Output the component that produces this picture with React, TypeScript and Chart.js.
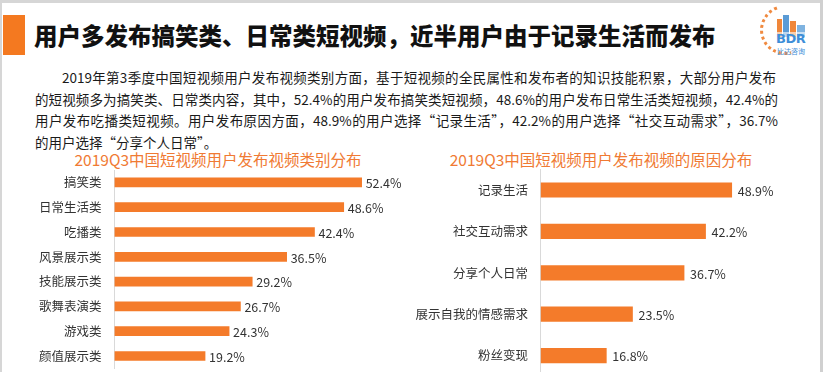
import React, { useEffect, useRef } from "react";
import { Chart, registerables } from "chart.js";

Chart.register(...registerables);

const FONT = '"Noto Sans CJK SC", "Noto Sans", sans-serif';
const ORANGE = "#F47B2A";

const pageTitle = "用户多发布搞笑类、日常类短视频，近半用户由于记录生活而发布";
const paragraphLines = [
  "2019年第3季度中国短视频用户发布视频类别方面，基于短视频的全民属性和发布者的知识技能积累，大部分用户发布",
  "的短视频多为搞笑类、日常类内容，其中，52.4%的用户发布搞笑类短视频，48.6%的用户发布日常生活类短视频，42.4%的",
  "用户发布吃播类短视频。用户发布原因方面，48.9%的用户选择“记录生活”，42.2%的用户选择“社交互动需求”，36.7%",
  "的用户选择“分享个人日常”。",
];

const leftTitle = "2019Q3中国短视频用户发布视频类别分布";
const leftCategories = ["搞笑类", "日常生活类", "吃播类", "风景展示类", "技能展示类", "歌舞表演类", "游戏类", "颜值展示类"];
const leftValues = [52.4, 48.6, 42.4, 36.5, 29.2, 26.7, 24.3, 19.2];

const rightTitle = "2019Q3中国短视频用户发布视频的原因分布";
const rightCategories = ["记录生活", "社交互动需求", "分享个人日常", "展示自我的情感需求", "粉丝变现"];
const rightValues = [48.9, 42.2, 36.7, 23.5, 16.8];

const axisMax = 60;

type Opts = {
  width: number;
  height: number;
  axisWidth: number;
  labelPad: number;
  padTop: number;
  padBottom: number;
  padRight: number;
  thickness: number;
  valueOffset: number;
};

function BarChart({ labels, values, opts }: { labels: string[]; values: number[]; opts: Opts }) {
  const ref = useRef<HTMLCanvasElement | null>(null);
  useEffect(() => {
    const canvas = ref.current;
    if (!canvas) return;
    const valueLabels = {
      id: "valueLabels",
      afterDatasetsDraw(chart: any) {
        const ctx = chart.ctx;
        const meta = chart.getDatasetMeta(0);
        ctx.save();
        ctx.font = `12.5px ${FONT}`;
        ctx.fillStyle = "#333333";
        ctx.textAlign = "left";
        ctx.textBaseline = "middle";
        meta.data.forEach((bar: any, i: number) => {
          ctx.fillText(values[i].toFixed(1) + "%", bar.x + opts.valueOffset, bar.y + 1);
        });
        ctx.restore();
      },
    };
    const chart = new Chart(canvas, {
      type: "bar",
      data: {
        labels,
        datasets: [
          {
            data: values,
            backgroundColor: ORANGE,
            borderWidth: 0,
            barThickness: opts.thickness,
          },
        ],
      },
      options: {
        indexAxis: "y",
        responsive: false,
        animation: false,
        devicePixelRatio: 1,
        layout: { padding: { top: opts.padTop, bottom: opts.padBottom, right: opts.padRight, left: 0 } },
        plugins: { legend: { display: false }, tooltip: { enabled: false } },
        scales: {
          x: { display: false, min: 0, max: axisMax },
          y: {
            grid: { display: false, drawTicks: false },
            border: { display: true, color: "#d9d9d9", width: 1 },
            ticks: {
              autoSkip: false,
              color: "#333333",
              padding: opts.labelPad,
              font: { size: 12.5, family: FONT },
            },
            afterFit: (s: any) => {
              s.width = opts.axisWidth;
              s.paddingTop = 0;
              s.paddingBottom = 0;
            },
          },
        },
      },
      plugins: [valueLabels],
    } as any);
    return () => chart.destroy();
  }, []);
  return (
    <canvas
      ref={ref}
      width={opts.width}
      height={opts.height}
      style={{ width: opts.width, height: opts.height, display: "block" }}
    />
  );
}

export default function App() {
  const abs = (s: React.CSSProperties): React.CSSProperties => ({ position: "absolute", ...s });
  return (
    <div
      style={{
        position: "fixed",
        left: 0,
        top: 0,
        width: 823,
        height: 372,
        overflow: "hidden",
        background: "#ffffff",
        fontFamily: FONT,
      }}
    >
      {/* frame */}
      <div style={abs({ left: 0, top: 0, width: 823, height: 3, background: "#d6d6d6" })} />
      <div style={abs({ left: 0, top: 0, width: 2, height: 372, background: "#d6d6d6" })} />
      <div style={abs({ left: 820, top: 0, width: 3, height: 372, background: "#d0d0d0" })} />

      {/* title */}
      <div style={abs({ left: 3, top: 15, width: 22, height: 40, background: "#F47920" })} />
      <div
        style={abs({
          left: 34,
          top: 22,
          fontSize: 23.5,
          lineHeight: "26px",
          fontWeight: 900,
          color: "#111111",
          whiteSpace: "nowrap",
        })}
      >
        {pageTitle}
      </div>

      {/* logo */}
      <div style={abs({ left: 760, top: 5, width: 52, height: 52 })}>
        <div
          style={abs({
            left: 0,
            top: 0,
            width: 44,
            height: 44,
            borderRadius: "50%",
            border: "3px dotted #F08A40",
            borderRightColor: "transparent",
            borderTopColor: "transparent",
            transform: "rotate(30deg)",
          })}
        />
        <div style={abs({ left: 17, top: 14, width: 5, height: 18, background: "#F0873A" })} />
        <div style={abs({ left: 23, top: 10, width: 6, height: 22, background: "#5B9BD5" })} />
        <div style={abs({ left: 30, top: 16, width: 6, height: 16, background: "#F0873A" })} />
        <div style={abs({ left: 37, top: 20, width: 8, height: 12, background: "#7FB3E0" })} />
        <div
          style={abs({
            left: 16,
            top: 27,
            fontSize: 13,
            fontWeight: 700,
            color: "#3E8ED8",
            fontFamily: '"DejaVu Sans", sans-serif',
            lineHeight: "14px",
            letterSpacing: -0.5,
            background: "rgba(255,255,255,0.6)",
          })}
        >
          BDR
        </div>
        <div style={abs({ left: 17, top: 42, fontSize: 7, color: "#3E8ED8", lineHeight: "8px" })}>比达咨询</div>
      </div>

      {/* paragraph */}
      {paragraphLines.map((line, i) => {
        const last = i === paragraphLines.length - 1;
        return (
          <div
            key={i}
            style={abs({
              left: i === 0 ? 62 : 35,
              top: 66 + i * 21.7,
              width: last ? undefined : i === 0 ? 714 : 743,
              fontSize: 13.5,
              lineHeight: "22px",
              color: "#1a1a1a",
              textAlign: last ? "left" : "justify",
              textAlignLast: last ? "left" : "justify",
              whiteSpace: last ? "nowrap" : "normal",
            } as React.CSSProperties)}
          >
            {line}
          </div>
        );
      })}

      {/* chart titles */}
      <div
        style={abs({
          left: 0,
          width: 436,
          top: 149,
          textAlign: "center",
          fontSize: 15.5,
          lineHeight: "20px",
          color: "#F07A33",
          whiteSpace: "nowrap",
        })}
      >
        {leftTitle}
      </div>
      <div
        style={abs({
          left: 400,
          width: 402,
          top: 149,
          textAlign: "center",
          fontSize: 15.5,
          lineHeight: "20px",
          color: "#F07A33",
          whiteSpace: "nowrap",
        })}
      >
        {rightTitle}
      </div>

      {/* charts */}
      <div style={abs({ left: 0, top: 165 })}>
        <BarChart
          labels={leftCategories}
          values={leftValues}
          opts={{
            width: 412,
            height: 210,
            axisWidth: 114.5,
            labelPad: 13,
            padTop: 5,
            padBottom: 6.6,
            padRight: 14.5,
            thickness: 9,
            valueOffset: 4,
          }}
        />
      </div>
      <div style={abs({ left: 412, top: 165 })}>
        <BarChart
          labels={rightCategories}
          values={rightValues}
          opts={{
            width: 411,
            height: 215,
            axisWidth: 128.7,
            labelPad: 12.7,
            padTop: 4.3,
            padBottom: 3.7,
            padRight: 47.9,
            thickness: 14.5,
            valueOffset: 6,
          }}
        />
      </div>
    </div>
  );
}
